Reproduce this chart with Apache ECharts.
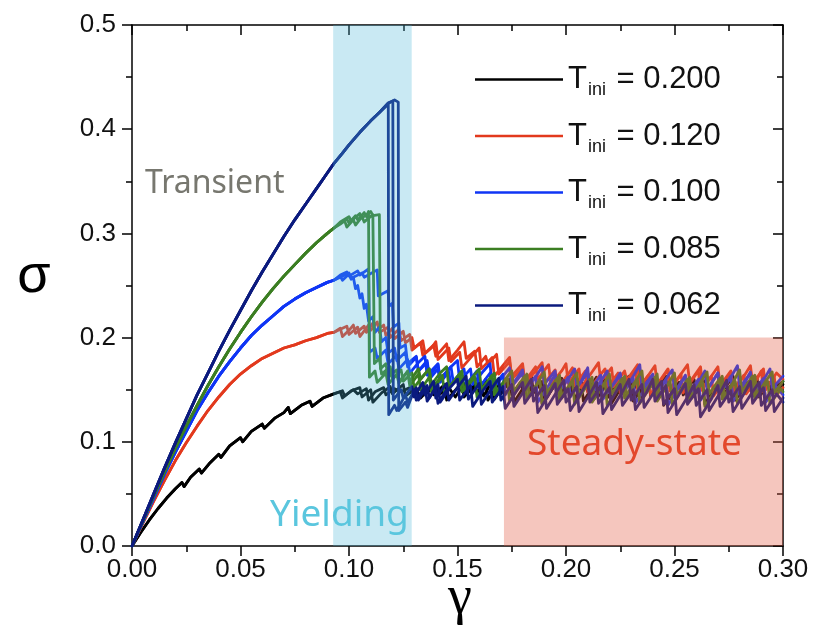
<!DOCTYPE html>
<html><head><meta charset="utf-8">
<script src="https://cdn.jsdelivr.net/npm/echarts@6/dist/echarts.min.js"></script>
<style>html,body{margin:0;padding:0;background:#fff}#c{width:813px;height:625px}</style>
</head><body><div id="c"></div>
<script>
// ---- tick labels / axis ----
const xTicks = [0, 0.05, 0.10, 0.15, 0.20, 0.25, 0.30];
const yTicks = [0, 0.1, 0.2, 0.3, 0.4, 0.5];
const legendNames = ['0.200', '0.120', '0.100', '0.085', '0.062'];
const colors = ['#000000', '#e2391d', '#0f35f5', '#3b7e22', '#0b1a7e'];
// regions: [x start, x end, y top]
const yieldBand = [0.0927, 0.1289, 0.5];
const steadyBand = [0.1714, 0.30, 0.20];

// ---- T = 0.200 ----
const blackRise = [[0,0],[0.004,0.013],[0.008,0.025],[0.012,0.036],[0.016,0.046],[0.02,0.055],[0.023,0.061],[0.024,0.057],[0.027,0.066],[0.031,0.074],[0.032,0.07],[0.036,0.08],[0.04,0.088],[0.041,0.085],[0.045,0.096],[0.05,0.104],[0.051,0.1],[0.055,0.11],[0.06,0.117],[0.061,0.113],[0.066,0.123],[0.07,0.128],[0.072,0.133],[0.073,0.127],[0.078,0.135],[0.082,0.139],[0.083,0.134],[0.088,0.142],[0.093,0.146]];
const blackPostA = [[0.097,0.149],[0.098,0.144],[0.102,0.15],[0.104,0.146],[0.108,0.151],[0.109,0.14],[0.112,0.148],[0.116,0.152],[0.117,0.145],[0.121,0.151],[0.124,0.148],[0.128,0.152],[0.13,0.145],[0.134,0.155],[0.136,0.147],[0.14,0.156],[0.142,0.146],[0.146,0.152],[0.149,0.143],[0.153,0.156],[0.156,0.148],[0.16,0.158],[0.162,0.144],[0.166,0.158],[0.167,0.141],[0.171,0.153],[0.174,0.16],[0.175,0.145],[0.179,0.157],[0.18,0.15],[0.184,0.164],[0.185,0.147],[0.189,0.158],[0.19,0.139],[0.195,0.155],[0.198,0.161],[0.199,0.146],[0.203,0.157],[0.204,0.141],[0.209,0.158],[0.21,0.148],[0.214,0.162],[0.215,0.144],[0.22,0.159],[0.221,0.137],[0.226,0.154],[0.229,0.163],[0.23,0.148],[0.234,0.158],[0.235,0.142],[0.24,0.156],[0.241,0.147],[0.246,0.163],[0.247,0.14],[0.252,0.157],[0.253,0.149],[0.257,0.161],[0.258,0.143],[0.263,0.158],[0.264,0.136],[0.269,0.153],[0.272,0.16],[0.273,0.146],[0.277,0.157],[0.278,0.141],[0.283,0.158],[0.284,0.149],[0.288,0.162],[0.289,0.143],[0.294,0.157],[0.295,0.146],[0.3,0.155]];
const blackPostB = [[0.096,0.148],[0.097,0.142],[0.101,0.149],[0.105,0.152],[0.106,0.143],[0.11,0.15],[0.111,0.138],[0.115,0.147],[0.119,0.153],[0.12,0.146],[0.125,0.155],[0.126,0.144],[0.131,0.151],[0.133,0.142],[0.138,0.153],[0.139,0.145],[0.144,0.155],[0.145,0.14],[0.15,0.152],[0.152,0.157],[0.153,0.143],[0.158,0.155],[0.159,0.147],[0.163,0.16],[0.164,0.14],[0.169,0.156],[0.17,0.146],[0.175,0.161],[0.176,0.138],[0.181,0.154],[0.183,0.16],[0.184,0.145],[0.188,0.156],[0.189,0.136],[0.194,0.152],[0.197,0.159],[0.198,0.142],[0.202,0.154],[0.203,0.147],[0.207,0.16],[0.208,0.139],[0.213,0.155],[0.214,0.148],[0.218,0.161],[0.219,0.142],[0.224,0.157],[0.225,0.147],[0.23,0.162],[0.231,0.139],[0.236,0.155],[0.238,0.16],[0.239,0.144],[0.244,0.157],[0.245,0.135],[0.25,0.151],[0.253,0.158],[0.254,0.145],[0.259,0.16],[0.26,0.147],[0.265,0.161],[0.266,0.142],[0.271,0.156],[0.272,0.148],[0.277,0.163],[0.278,0.14],[0.283,0.154],[0.285,0.159],[0.286,0.144],[0.291,0.158],[0.292,0.139],[0.297,0.153],[0.3,0.158]];

// ---- T = 0.120 ----
const redRise = [[0,0],[0.005,0.022],[0.01,0.043],[0.015,0.063],[0.02,0.082],[0.025,0.099],[0.03,0.115],[0.035,0.13],[0.04,0.143],[0.045,0.155],[0.05,0.165],[0.055,0.173],[0.06,0.18],[0.065,0.185],[0.07,0.19],[0.075,0.193],[0.08,0.197],[0.085,0.2],[0.09,0.204],[0.093,0.205]];
const redPostA = [[0.096,0.209],[0.097,0.201],[0.1,0.207],[0.102,0.212],[0.103,0.204],[0.107,0.211],[0.108,0.205],[0.111,0.214],[0.112,0.206],[0.116,0.212],[0.117,0.202],[0.12,0.209],[0.121,0.199],[0.125,0.206],[0.126,0.195],[0.129,0.2],[0.13,0.19],[0.134,0.197],[0.135,0.185],[0.139,0.193],[0.14,0.182],[0.145,0.194],[0.146,0.178],[0.15,0.188],[0.153,0.196],[0.154,0.18],[0.158,0.187],[0.159,0.172],[0.163,0.182],[0.164,0.174],[0.168,0.184],[0.169,0.165],[0.174,0.177],[0.175,0.163],[0.18,0.175],[0.181,0.158],[0.186,0.172],[0.187,0.16],[0.192,0.174],[0.193,0.155],[0.198,0.168],[0.2,0.175],[0.201,0.156],[0.206,0.17],[0.207,0.152],[0.212,0.167],[0.215,0.176],[0.216,0.158],[0.221,0.171],[0.222,0.153],[0.227,0.168],[0.228,0.159],[0.233,0.174],[0.234,0.152],[0.239,0.167],[0.241,0.173],[0.242,0.155],[0.247,0.17],[0.248,0.149],[0.253,0.165],[0.256,0.174],[0.257,0.157],[0.262,0.172],[0.263,0.151],[0.268,0.166],[0.27,0.172],[0.271,0.154],[0.276,0.168],[0.277,0.148],[0.282,0.163],[0.285,0.173],[0.286,0.156],[0.291,0.17],[0.292,0.15],[0.297,0.166],[0.3,0.16]];
const redPostB = [[0.095,0.207],[0.099,0.211],[0.1,0.203],[0.104,0.21],[0.105,0.201],[0.109,0.212],[0.11,0.207],[0.113,0.215],[0.114,0.205],[0.118,0.21],[0.119,0.2],[0.123,0.208],[0.124,0.197],[0.128,0.203],[0.129,0.188],[0.133,0.195],[0.134,0.183],[0.138,0.19],[0.14,0.196],[0.141,0.179],[0.146,0.19],[0.147,0.177],[0.151,0.186],[0.152,0.171],[0.157,0.183],[0.16,0.19],[0.161,0.17],[0.166,0.181],[0.167,0.163],[0.172,0.176],[0.174,0.181],[0.175,0.16],[0.18,0.171],[0.181,0.155],[0.186,0.168],[0.189,0.176],[0.19,0.156],[0.195,0.169],[0.196,0.151],[0.201,0.165],[0.203,0.171],[0.204,0.154],[0.209,0.168],[0.21,0.148],[0.215,0.162],[0.218,0.17],[0.219,0.152],[0.224,0.166],[0.225,0.147],[0.23,0.162],[0.232,0.168],[0.233,0.15],[0.238,0.164],[0.239,0.145],[0.244,0.16],[0.247,0.169],[0.248,0.151],[0.253,0.165],[0.254,0.147],[0.259,0.162],[0.261,0.168],[0.262,0.149],[0.267,0.163],[0.268,0.144],[0.273,0.158],[0.276,0.167],[0.277,0.15],[0.282,0.164],[0.283,0.146],[0.288,0.16],[0.29,0.168],[0.291,0.148],[0.296,0.162],[0.297,0.145],[0.3,0.152]];

// ---- T = 0.100 ----
const blueRise = [[0,0],[0.005,0.023],[0.01,0.046],[0.015,0.069],[0.02,0.09],[0.025,0.11],[0.03,0.13],[0.035,0.147],[0.04,0.163],[0.045,0.177],[0.05,0.19],[0.055,0.202],[0.06,0.212],[0.065,0.221],[0.07,0.23],[0.075,0.237],[0.08,0.243],[0.085,0.248],[0.09,0.253],[0.093,0.255]];
const bluePostA = [[0.096,0.259],[0.097,0.255],[0.1,0.261],[0.101,0.256],[0.102,0.258],[0.103,0.247],[0.104,0.25],[0.105,0.238],[0.106,0.242],[0.107,0.228],[0.108,0.232],[0.109,0.216],[0.111,0.22],[0.112,0.205],[0.114,0.21],[0.115,0.196],[0.117,0.2],[0.118,0.185],[0.121,0.19],[0.122,0.178],[0.126,0.186],[0.127,0.172],[0.131,0.181],[0.132,0.168],[0.136,0.178],[0.137,0.163],[0.141,0.174],[0.142,0.16],[0.147,0.172],[0.148,0.158],[0.153,0.17],[0.154,0.155],[0.159,0.168],[0.16,0.152],[0.165,0.166],[0.166,0.15],[0.171,0.163],[0.174,0.171],[0.175,0.153],[0.18,0.166],[0.181,0.148],[0.186,0.162],[0.189,0.172],[0.19,0.155],[0.195,0.168],[0.196,0.146],[0.201,0.16],[0.204,0.17],[0.205,0.152],[0.21,0.166],[0.211,0.143],[0.216,0.158],[0.219,0.168],[0.22,0.15],[0.225,0.164],[0.226,0.147],[0.231,0.163],[0.234,0.174],[0.235,0.151],[0.24,0.165],[0.241,0.145],[0.246,0.16],[0.249,0.169],[0.25,0.148],[0.255,0.163],[0.256,0.141],[0.261,0.157],[0.264,0.168],[0.265,0.15],[0.27,0.166],[0.271,0.146],[0.276,0.162],[0.279,0.173],[0.28,0.152],[0.285,0.166],[0.286,0.144],[0.291,0.159],[0.294,0.17],[0.295,0.151],[0.3,0.163]];
const bluePostB = [[0.096,0.26],[0.099,0.263],[0.1,0.259],[0.104,0.264],[0.105,0.26],[0.109,0.266],[0.1095,0.186],[0.112,0.19],[0.113,0.18],[0.117,0.188],[0.118,0.175],[0.122,0.183],[0.123,0.17],[0.127,0.179],[0.128,0.166],[0.132,0.176],[0.135,0.182],[0.136,0.164],[0.141,0.175],[0.142,0.16],[0.147,0.172],[0.15,0.178],[0.151,0.158],[0.156,0.17],[0.157,0.155],[0.162,0.168],[0.165,0.175],[0.166,0.152],[0.171,0.165],[0.172,0.145],[0.177,0.16],[0.18,0.169],[0.181,0.149],[0.186,0.163],[0.187,0.138],[0.192,0.154],[0.195,0.165],[0.196,0.147],[0.201,0.162],[0.202,0.143],[0.207,0.158],[0.21,0.171],[0.211,0.149],[0.216,0.164],[0.217,0.141],[0.222,0.156],[0.225,0.166],[0.226,0.146],[0.231,0.161],[0.232,0.137],[0.237,0.153],[0.24,0.163],[0.241,0.144],[0.246,0.159],[0.247,0.135],[0.252,0.152],[0.255,0.164],[0.256,0.145],[0.261,0.16],[0.262,0.14],[0.267,0.156],[0.27,0.166],[0.271,0.148],[0.276,0.163],[0.277,0.139],[0.282,0.155],[0.285,0.167],[0.286,0.147],[0.291,0.161],[0.292,0.138],[0.297,0.153],[0.3,0.145]];
const bluePostC = [[0.096,0.258],[0.1,0.262],[0.101,0.257],[0.106,0.262],[0.107,0.258],[0.113,0.265],[0.1135,0.24],[0.118,0.245],[0.1185,0.23],[0.12,0.233],[0.1205,0.21],[0.123,0.214],[0.1235,0.19],[0.126,0.193],[0.127,0.175],[0.131,0.182],[0.132,0.168],[0.136,0.176],[0.137,0.16],[0.141,0.17],[0.142,0.157],[0.146,0.167],[0.147,0.154],[0.151,0.164]];

// ---- T = 0.085 ----
const greenRise = [[0,0],[0.005,0.024],[0.01,0.048],[0.015,0.071],[0.02,0.094],[0.025,0.115],[0.03,0.135],[0.035,0.154],[0.04,0.172],[0.045,0.189],[0.05,0.205],[0.055,0.22],[0.06,0.234],[0.065,0.247],[0.07,0.259],[0.075,0.27],[0.08,0.281],[0.085,0.291],[0.09,0.3],[0.093,0.305]];
const greenPostA = [[0.096,0.31],[0.099,0.314],[0.1,0.31],[0.103,0.317],[0.104,0.313],[0.107,0.32],[0.108,0.316],[0.109,0.321],[0.1094,0.162],[0.112,0.168],[0.113,0.157],[0.117,0.166],[0.118,0.155],[0.122,0.165],[0.123,0.156],[0.127,0.168],[0.128,0.158],[0.132,0.17],[0.133,0.16],[0.137,0.17],[0.138,0.155],[0.142,0.166],[0.145,0.172],[0.146,0.152],[0.151,0.165],[0.152,0.148],[0.157,0.162],[0.16,0.17],[0.161,0.15],[0.166,0.164],[0.167,0.145],[0.172,0.16],[0.175,0.168],[0.176,0.148],[0.181,0.163],[0.182,0.141],[0.187,0.157],[0.19,0.167],[0.191,0.147],[0.196,0.161],[0.197,0.14],[0.202,0.156],[0.205,0.166],[0.206,0.145],[0.211,0.16],[0.212,0.138],[0.217,0.154],[0.22,0.165],[0.221,0.146],[0.226,0.161],[0.227,0.142],[0.232,0.158],[0.235,0.168],[0.236,0.147],[0.241,0.162],[0.242,0.139],[0.247,0.155],[0.25,0.166],[0.251,0.144],[0.256,0.16],[0.257,0.14],[0.262,0.157],[0.265,0.167],[0.266,0.146],[0.271,0.161],[0.272,0.141],[0.277,0.157],[0.28,0.169],[0.281,0.148],[0.286,0.163],[0.287,0.142],[0.292,0.158],[0.295,0.167],[0.296,0.147],[0.3,0.158]];
const greenPostB = [[0.096,0.309],[0.098,0.312],[0.099,0.306],[0.102,0.313],[0.103,0.308],[0.106,0.316],[0.107,0.311],[0.111,0.318],[0.1117,0.175],[0.114,0.18],[0.115,0.165],[0.119,0.172],[0.12,0.16],[0.124,0.169],[0.125,0.158],[0.129,0.166],[0.13,0.152],[0.134,0.163],[0.137,0.17],[0.138,0.151],[0.143,0.164],[0.144,0.146],[0.149,0.16],[0.152,0.168],[0.153,0.149],[0.158,0.162],[0.159,0.143],[0.164,0.158],[0.167,0.166],[0.168,0.147],[0.173,0.161],[0.174,0.139],[0.179,0.155],[0.182,0.165],[0.183,0.144],[0.188,0.159],[0.189,0.137],[0.194,0.153],[0.197,0.164],[0.198,0.143],[0.203,0.158],[0.204,0.136],[0.209,0.152],[0.212,0.162],[0.213,0.141],[0.218,0.157],[0.219,0.135],[0.224,0.151],[0.227,0.163],[0.228,0.144],[0.233,0.159],[0.234,0.137],[0.239,0.153],[0.242,0.165],[0.243,0.143],[0.248,0.158],[0.249,0.136],[0.254,0.152],[0.257,0.162],[0.258,0.142],[0.263,0.157],[0.264,0.134],[0.269,0.15],[0.272,0.163],[0.273,0.143],[0.278,0.158],[0.279,0.137],[0.284,0.153],[0.287,0.164],[0.288,0.143],[0.293,0.158],[0.294,0.136],[0.299,0.151],[0.3,0.148]];
const greenPostC = [[0.096,0.311],[0.1,0.316],[0.101,0.312],[0.105,0.319],[0.106,0.315],[0.11,0.321],[0.111,0.317],[0.114,0.318],[0.1145,0.17],[0.117,0.175],[0.118,0.162],[0.122,0.169],[0.123,0.158],[0.127,0.167],[0.128,0.154],[0.132,0.165],[0.133,0.15],[0.137,0.162],[0.138,0.148],[0.142,0.16]];

// ---- T = 0.062 ----
const navyRise = [[0,0],[0.005,0.025],[0.01,0.05],[0.015,0.075],[0.02,0.099],[0.025,0.122],[0.03,0.145],[0.035,0.166],[0.04,0.187],[0.045,0.207],[0.05,0.226],[0.055,0.245],[0.06,0.263],[0.065,0.28],[0.07,0.297],[0.075,0.313],[0.08,0.328],[0.085,0.343],[0.09,0.358],[0.093,0.367],[0.097,0.377],[0.1,0.385],[0.105,0.397],[0.11,0.408],[0.114,0.416]];
const navyPostA = [[0.1181,0.424],[0.1183,0.126],[0.121,0.135],[0.122,0.13],[0.126,0.145],[0.127,0.138],[0.131,0.152],[0.132,0.14],[0.136,0.154],[0.137,0.142],[0.141,0.155],[0.142,0.138],[0.147,0.153],[0.15,0.16],[0.151,0.14],[0.156,0.154],[0.157,0.134],[0.162,0.15],[0.165,0.158],[0.166,0.138],[0.171,0.153],[0.172,0.132],[0.177,0.148],[0.18,0.157],[0.181,0.137],[0.186,0.152],[0.187,0.128],[0.192,0.145],[0.195,0.156],[0.196,0.136],[0.201,0.151],[0.202,0.13],[0.207,0.147],[0.21,0.158],[0.211,0.138],[0.216,0.153],[0.217,0.127],[0.222,0.144],[0.225,0.155],[0.226,0.135],[0.231,0.15],[0.232,0.131],[0.237,0.147],[0.24,0.16],[0.241,0.139],[0.246,0.154],[0.247,0.128],[0.252,0.145],[0.255,0.156],[0.256,0.136],[0.261,0.151],[0.262,0.124],[0.267,0.141],[0.27,0.154],[0.271,0.134],[0.276,0.149],[0.277,0.129],[0.282,0.146],[0.285,0.158],[0.286,0.137],[0.291,0.152],[0.292,0.13],[0.297,0.146],[0.3,0.138]];
const navyPostB = [[0.118,0.425],[0.1202,0.427],[0.1204,0.14],[0.124,0.15],[0.125,0.142],[0.129,0.153],[0.13,0.143],[0.134,0.157],[0.135,0.145],[0.139,0.158],[0.14,0.142],[0.145,0.156],[0.146,0.14],[0.151,0.155],[0.154,0.163],[0.155,0.141],[0.16,0.156],[0.161,0.136],[0.166,0.152],[0.169,0.161],[0.17,0.14],[0.175,0.155],[0.176,0.134],[0.181,0.15],[0.184,0.16],[0.185,0.139],[0.19,0.154],[0.191,0.132],[0.196,0.149],[0.199,0.159],[0.2,0.138],[0.205,0.153],[0.206,0.129],[0.211,0.146],[0.214,0.157],[0.215,0.137],[0.22,0.152],[0.221,0.131],[0.226,0.148],[0.229,0.16],[0.23,0.14],[0.235,0.155],[0.236,0.133],[0.241,0.149],[0.244,0.158],[0.245,0.136],[0.25,0.151],[0.251,0.126],[0.256,0.143],[0.259,0.155],[0.26,0.135],[0.265,0.15],[0.266,0.13],[0.271,0.147],[0.274,0.159],[0.275,0.138],[0.28,0.153],[0.281,0.132],[0.286,0.148],[0.289,0.157],[0.29,0.135],[0.295,0.15],[0.296,0.129],[0.3,0.142]];
const navyPostC = [[0.118,0.425],[0.121,0.428],[0.1227,0.426],[0.1229,0.13],[0.126,0.138],[0.127,0.133],[0.13,0.15],[0.131,0.14],[0.135,0.153],[0.136,0.139],[0.14,0.152],[0.141,0.137],[0.145,0.15]];

const runs = [
  [0, blackRise.concat(blackPostA)], [0, blackRise.concat(blackPostB)],
  [1, redRise.concat(redPostA)], [1, redRise.concat(redPostB)],
  [2, blueRise.concat(bluePostA)], [2, blueRise.concat(bluePostB)], [2, blueRise.concat(bluePostC)],
  [3, greenRise.concat(greenPostA)], [3, greenRise.concat(greenPostB)], [3, greenRise.concat(greenPostC)],
  [4, navyRise.concat(navyPostA)], [4, navyRise.concat(navyPostB)], [4, navyRise.concat(navyPostC)]
];

const FONT = 'Liberation Sans';
const chart = echarts.init(document.getElementById('c'), null, {renderer: 'canvas'});

const series = runs.map(([k, d]) => ({
  type: 'line', name: legendNames[k], data: d, showSymbol: false, symbol: 'none',
  color: colors[k], lineStyle: {width: 2.8, color: colors[k], join: 'round', cap: 'round'}, z: 2, animation: false,
  xAxisIndex: 0, yAxisIndex: 0
}));
const bandFills = ['rgba(75,182,215,0.3)', 'rgba(226,92,69,0.35)'];
series.push({
  type: 'custom', z: 10, silent: true, xAxisIndex: 0, yAxisIndex: 0, animation: false,
  data: [yieldBand, steadyBand],
  renderItem: (params, api) => {
    const p0 = api.coord([api.value(0), api.value(2)]);
    const p1 = api.coord([api.value(1), 0]);
    return {type: 'rect', shape: {x: p0[0], y: p0[1], width: p1[0] - p0[0], height: p1[1] - p0[1]},
      style: {fill: bandFills[params.dataIndex]}};
  }
});

const axisLineStyle = {color: '#000', width: 1.5};
const baseX = {type: 'value', min: 0, max: 0.3, interval: 0.05, splitLine: {show: false},
  axisLine: {show: true, onZero: false, lineStyle: axisLineStyle}};
const baseY = {type: 'value', min: 0, max: 0.5, interval: 0.1, splitLine: {show: false},
  axisLine: {show: true, onZero: false, lineStyle: axisLineStyle}};

chart.setOption({
  animation: false,
  backgroundColor: '#fff',
  grid: {left: 132, right: 30, top: 25, bottom: 79, containLabel: false},
  legend: {
    data: legendNames, orient: 'vertical', left: 475, top: 64, padding: 0,
    icon: 'rect', itemWidth: 88, itemHeight: 2.5, itemGap: 21,
    formatter: n => '{a|T}{b|ini}{a| = ' + n + '}',
    textStyle: {
      rich: {
        a: {fontSize: 31, fontFamily: FONT, color: '#111', lineHeight: 40},
        b: {fontSize: 18, fontFamily: FONT, color: '#111', lineHeight: 18, verticalAlign: 'bottom', padding: [0, 2, 0, 1]}
      }
    }
  },
  xAxis: [
    Object.assign({}, baseX, {position: 'bottom',
      axisTick: {show: true, inside: false, length: 10, lineStyle: axisLineStyle},
      minorTick: {show: true, splitNumber: 2, length: 6, lineStyle: axisLineStyle},
      axisLabel: {show: true, fontSize: 26, fontFamily: FONT, color: '#111', margin: 11,
        formatter: v => xTicks.some(t => Math.abs(t - v) < 1e-9) ? v.toFixed(2) : ''}}),
    Object.assign({}, baseX, {position: 'top',
      axisTick: {show: true, inside: true, length: 10, lineStyle: axisLineStyle},
      minorTick: {show: true, splitNumber: 2, length: 6, lineStyle: axisLineStyle},
      axisLabel: {show: false}})
  ],
  yAxis: [
    Object.assign({}, baseY, {position: 'left',
      axisTick: {show: true, inside: false, length: 10, lineStyle: axisLineStyle},
      minorTick: {show: true, splitNumber: 2, length: 6, lineStyle: axisLineStyle},
      axisLabel: {show: true, fontSize: 26, fontFamily: FONT, color: '#111', margin: 16,
        formatter: v => yTicks.some(t => Math.abs(t - v) < 1e-9) ? v.toFixed(1) : ''}}),
    Object.assign({}, baseY, {position: 'right',
      axisTick: {show: true, inside: true, length: 10, lineStyle: axisLineStyle},
      minorTick: {show: true, splitNumber: 2, length: 6, lineStyle: axisLineStyle},
      axisLabel: {show: false}})
  ],
  graphic: [
    {type: 'text', x: 34, y: 277, z: 100, style: {text: '\u03c3', fontSize: 54, fontFamily: FONT, fill: '#000', align: 'center', verticalAlign: 'middle'}},
    {type: 'text', x: 460, y: 599, z: 100, style: {text: '\u03b3', fontSize: 54, fontFamily: 'Liberation Serif', fill: '#000', align: 'center', verticalAlign: 'middle'}},
    {type: 'text', x: 145, y: 184, z: 100, style: {text: 'Transient', fontSize: 32, fontFamily: 'Noto Sans', fill: '#77776f', align: 'left', verticalAlign: 'middle'}},
    {type: 'text', x: 270, y: 515, z: 100, style: {text: 'Yielding', fontSize: 37, fontFamily: 'Noto Sans', fill: '#5ac6de', align: 'left', verticalAlign: 'middle'}},
    {type: 'text', x: 527, y: 444, z: 100, style: {text: 'Steady-state', fontSize: 37, fontFamily: 'Noto Sans', fill: '#e3482c', align: 'left', verticalAlign: 'middle'}}
  ],
  series: series
});
</script>
</body></html>
